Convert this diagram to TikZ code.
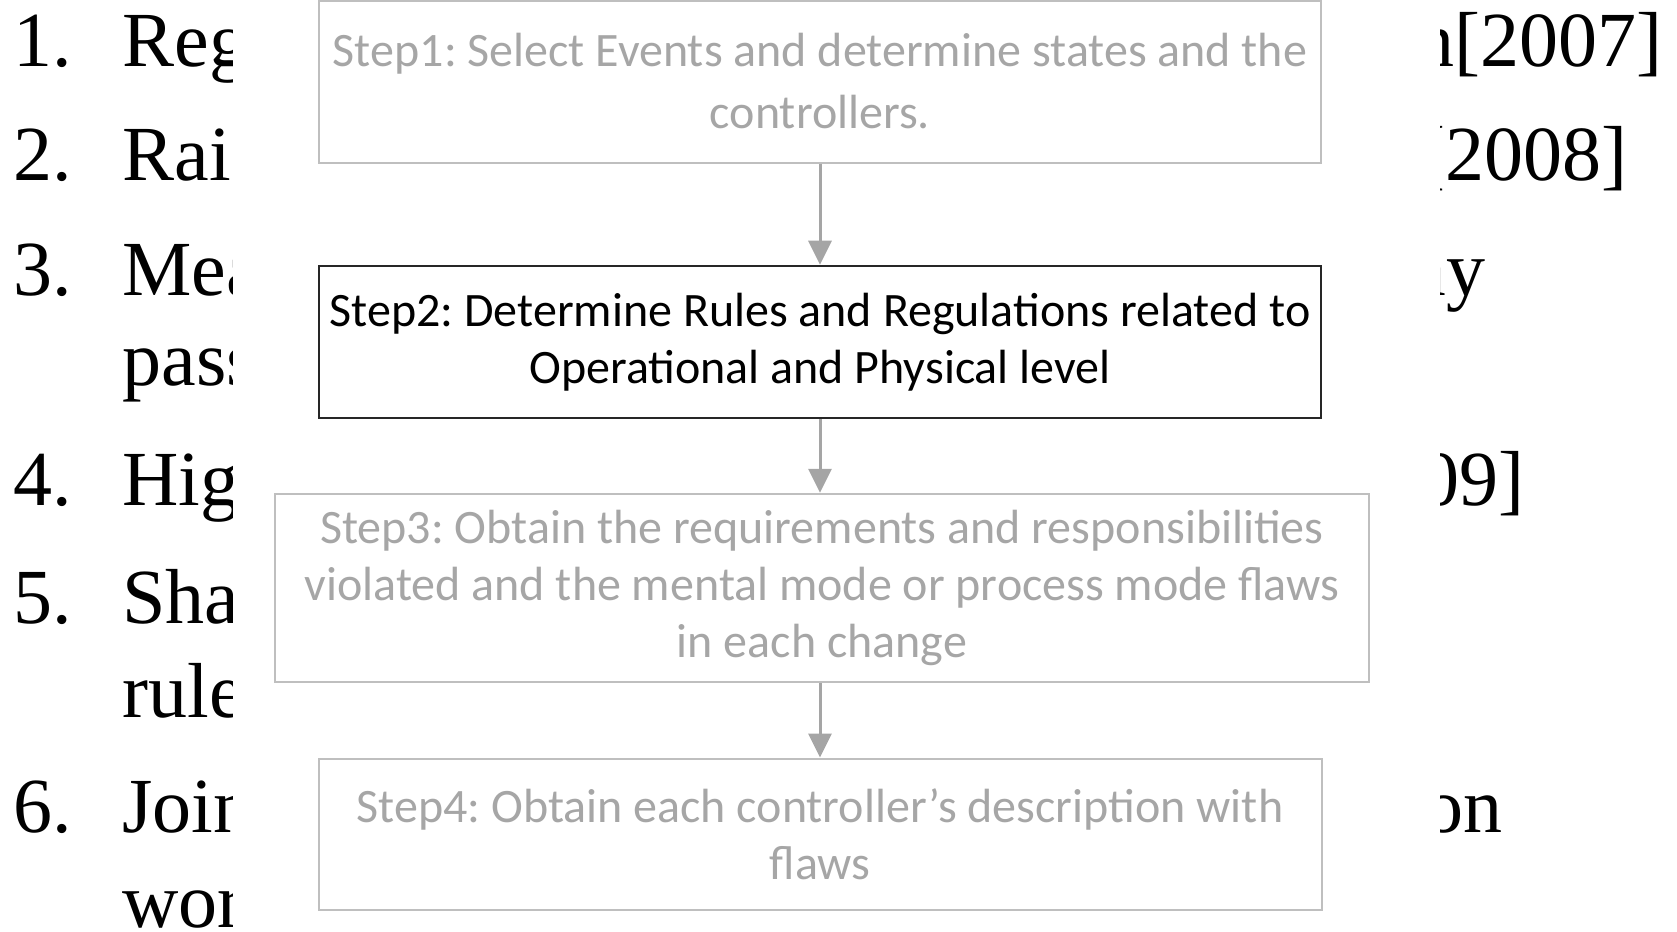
\documentclass[tikz,border=0pt]{standalone}
\usepackage{fontspec}
\setmainfont{Liberation Serif}
\newfontfamily\boxfont{Carlito}
\usetikzlibrary{arrows.meta}
\definecolor{fadedtext}{HTML}{A6A6A6}
\definecolor{fadedline}{HTML}{BFBFBF}
\definecolor{darkline}{HTML}{262626}
\definecolor{arrowgray}{HTML}{A5A5A5}
\frenchspacing
\begin{document}
\begin{tikzpicture}[x=0.5pt,y=-0.5pt,
  listtext/.style={font=\fontsize{39}{39}\selectfont, inner sep=0pt, anchor=base west},
  listtail/.style={font=\fontsize{39}{39}\selectfont, inner sep=0pt, anchor=base east},
  stepbox/.style={draw, line width=1pt, fill=white, inner sep=0pt, align=center,
    font=\boxfont\fontsize{24}{28.5}\selectfont},
  faded/.style={stepbox, draw=fadedline, text=fadedtext},
  active/.style={stepbox, draw=darkline, text=black},
  flow/.style={draw=arrowgray, line width=1.5pt, -{Triangle[length=12pt,width=11.5pt]}}]
\useasboundingbox (0,0) rectangle (1677,932);

% numbered list in the background
\node[listtext] (n1) at (13,66)  {1.};
\node[listtext] (n2) at (13,180) {2.};
\node[listtext] (n3) at (13,295) {3.};
\node[listtext] (n4) at (13,505) {4.};
\node[listtext] (n5) at (13,623) {5.};
\node[listtext] (n6) at (13,832) {6.};

% left ends of the list lines, cut by the overlay
\begin{scope}
  \clip (0,0) rectangle (232,932);
  \node[listtext] (w1) at (122,66)  {Reg};
  \node[listtext] (w2) at (122,180) {Rai};
  \node[listtext] (w3) at (122,295) {Mea};
  \node[listtext] (w3b) at (122,385) {pass};
  \node[listtext] (w4) at (122,505) {Hig};
  \node[listtext] (w5) at (122,623) {Sha};
  \node[listtext] (w5b) at (122,717) {rule};
  \node[listtext] (w6) at (122,832) {Join};
  \node[listtext] (w6b) at (122,927) {wor};
\end{scope}

% right ends of the list lines
\begin{scope}
  \clip (1440,0) rectangle (1677,932);
  \node[listtail] (t1) at (1663,66)  {n[2007]};
  \node[listtail] (t2) at (1628,180) {[2008]};
  \node[listtail] (t3) at (1486,295) {ay};
  \node[listtail] (t4) at (1525,505) {09]};
  \node[listtail] (t6) at (1503,832) {on};
\end{scope}

% the four steps
\node[faded, minimum width=501pt, minimum height=81pt,
      font=\boxfont\fontsize{24}{31}\selectfont] (b1) at (820,81.5)
  {Step1: Select Events and determine states and the\\controllers.};
\node[active, minimum width=501pt, minimum height=76.3pt] (b2) at (820,342)
  {Step2: Determine Rules and Regulations related to\\Operational and Physical level};
\node[faded, minimum width=547.2pt, minimum height=94.2pt] (b3) at (822,588)
  {Step3: Obtain the requirements and responsibilities\\violated and the mental mode or process mode flaws\\in each change};
\node[faded, minimum width=501.5pt, minimum height=75.5pt] (b4) at (820,834)
  {Step4: Obtain each controller’s description with\\flaws};

\draw[flow] (b1.south) -- (b2.north);
\draw[flow] (b2.south) -- (b2.south |- b3.north);
\draw[flow] (b2.south |- b3.south) -- (b4.north);
\end{tikzpicture}
\end{document}
